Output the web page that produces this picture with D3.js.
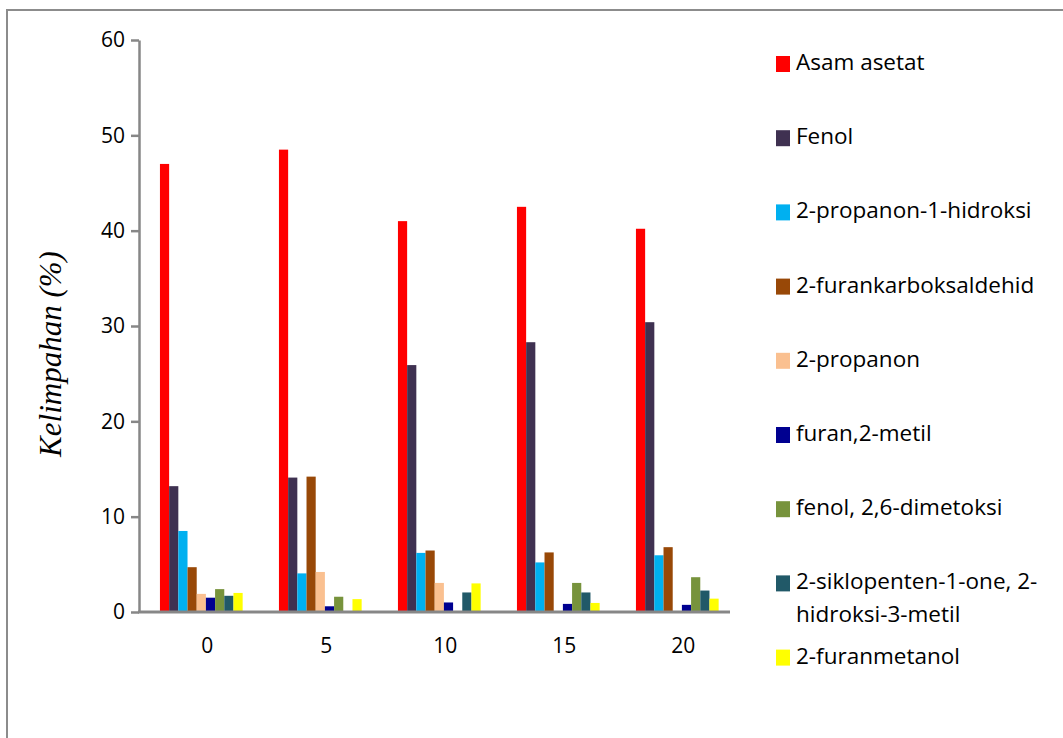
<!DOCTYPE html>
<html>
<head>
<meta charset="utf-8">
<script src="https://cdn.jsdelivr.net/npm/d3@7"></script>
<style>
  html, body { margin: 0; padding: 0; background: #fff; }
  svg { display: block; }
  text { font-family: "Open Sans", "Liberation Sans", sans-serif; fill: #000; }
</style>
</head>
<body>
<svg id="chart" width="1063" height="738"></svg>
<script>
// Waktu (kategori sumbu X)
const categories = ["0", "5", "10", "15", "20"];

// Nama senyawa (seri)
const seriesNames = [
  "Asam asetat",
  "Fenol",
  "2-propanon-1-hidroksi",
  "2-furankarboksaldehid",
  "2-propanon",
  "furan,2-metil",
  "fenol, 2,6-dimetoksi",
  "2-siklopenten-1-one, 2-hidroksi-3-metil",
  "2-furanmetanol"
];

// Kelimpahan (%) tiap senyawa, urut sesuai kategori
const asamAsetat          = [47.0, 48.5, 41.0, 42.5, 40.2];
const fenol               = [13.2, 14.1, 25.9, 28.3, 30.4];
const propanonHidroksi    = [8.5, 4.05, 6.2, 5.2, 5.95];
const furankarboksaldehid = [4.7, 14.2, 6.45, 6.25, 6.8];
const propanon            = [1.9, 4.2, 3.05, 0, 0];
const furanMetil          = [1.5, 0.6, 1.0, 0.85, 0.75];
const fenolDimetoksi      = [2.4, 1.6, 0, 3.05, 3.65];
const siklopentenon       = [1.7, 0, 2.05, 2.05, 2.25];
const furanmetanol        = [2.0, 1.35, 3.0, 0.95, 1.4];

const seriesValues = [asamAsetat, fenol, propanonHidroksi, furankarboksaldehid,
  propanon, furanMetil, fenolDimetoksi, siklopentenon, furanmetanol];

const seriesColors = ["#ff0000", "#3f3151", "#00b0f0", "#984807", "#fac090",
  "#000090", "#77933c", "#215968", "#ffff00"];

const yTicks = [0, 10, 20, 30, 40, 50, 60];
const yTitle = "Kelimpahan (%)";

const svg = d3.select("#chart");

// Bingkai area grafik
svg.append("path")
  .attr("d", "M7,738 V10 H1063")
  .attr("fill", "none")
  .attr("stroke", "#8c8c8c")
  .attr("stroke-width", 2);

const plot = { left: 139, right: 730, top: 40, bottom: 612 };

const y = d3.scaleLinear().domain([0, 60]).range([plot.bottom, plot.top]);

const x0 = d3.scaleBand()
  .domain(categories)
  .range([141.8, 736.8])
  .paddingInner(0.305)
  .paddingOuter(0.1525);

const x1 = d3.scaleBand()
  .domain(d3.range(seriesNames.length))
  .range([0, x0.bandwidth()]);

// Batang
const groups = svg.append("g").selectAll("g")
  .data(categories)
  .join("g")
  .attr("transform", c => `translate(${x0(c)},0)`);

groups.selectAll("rect")
  .data((c, ci) => seriesValues.map((vals, si) => ({ si, v: vals[ci] })))
  .join("rect")
  .attr("x", d => x1(d.si))
  .attr("width", x1.bandwidth())
  .attr("y", d => y(d.v))
  .attr("height", d => y(0) - y(d.v))
  .attr("fill", d => seriesColors[d.si]);

// Sumbu Y
const yAxis = svg.append("g")
  .attr("transform", `translate(${plot.left},0)`)
  .call(d3.axisLeft(y).tickValues(yTicks).tickSize(8).tickSizeOuter(0).tickPadding(6));
yAxis.select(".domain").attr("stroke", "#878787").attr("stroke-width", 2.5);
yAxis.selectAll(".tick line").attr("stroke", "#878787").attr("stroke-width", 2.5);
yAxis.selectAll(".tick text")
  .attr("font-family", "'Open Sans', sans-serif")
  .attr("font-size", 21)
  .attr("fill", "#000");

// Sumbu X
svg.append("line")
  .attr("x1", plot.left - 1).attr("x2", plot.right)
  .attr("y1", y(0)).attr("y2", y(0))
  .attr("stroke", "#878787").attr("stroke-width", 3);

const xAxis = svg.append("g")
  .attr("transform", `translate(6,${y(0)})`)
  .call(d3.axisBottom(x0).tickSize(0).tickPadding(26));
xAxis.select(".domain").remove();
xAxis.selectAll(".tick text")
  .attr("font-family", "'Open Sans', sans-serif")
  .attr("font-size", 21)
  .attr("fill", "#000");

// Judul sumbu Y
svg.append("text")
  .attr("transform", `translate(61,354) rotate(-90)`)
  .attr("text-anchor", "middle")
  .style("font-family", "'Liberation Serif', 'Times New Roman', serif")
  .style("font-style", "italic")
  .attr("font-size", 31)
  .text(yTitle);

// Legenda
const legend = svg.append("g").attr("transform", "translate(776,0)");
const legendStep = 74.2;
const legendFirst = 72;
const maxLabelWidth = 262;

seriesNames.forEach((name, i) => {
  const bottom = legendFirst + i * legendStep;
  const item = legend.append("g");
  item.append("rect")
    .attr("x", 0).attr("y", bottom - 16)
    .attr("width", 14).attr("height", 16)
    .attr("fill", seriesColors[i]);

  const t = item.append("text")
    .attr("x", 20).attr("y", bottom - 2)
    .attr("font-size", 22.5);

  // Bungkus label panjang pada spasi atau tanda hubung
  const tokens = name.match(/[^\s-]+[-\s]?/g);
  let lines = [], cur = "";
  const probe = t.append("tspan");
  tokens.forEach(tok => {
    const trial = cur + tok;
    probe.text(trial.trimEnd());
    if (cur && probe.node().getComputedTextLength() > maxLabelWidth) {
      lines.push(cur.trimEnd());
      cur = tok;
    } else {
      cur = trial;
    }
  });
  lines.push(cur.trimEnd());
  probe.remove();
  lines.forEach((ln, li) => {
    t.append("tspan").attr("x", 20).attr("dy", li === 0 ? 0 : 33).text(ln);
  });
});
</script>
</body>
</html>
